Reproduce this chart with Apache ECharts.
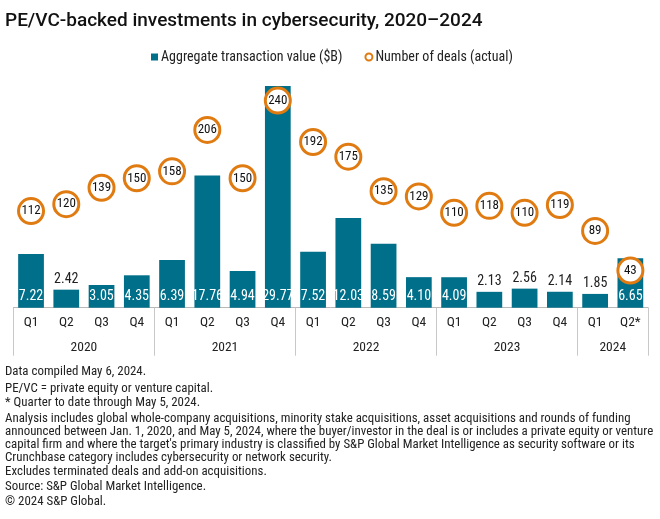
<!DOCTYPE html>
<html>
<head>
<meta charset="utf-8">
<script src="https://cdn.jsdelivr.net/npm/echarts@6/dist/echarts.min.js"></script>
<style>html,body{margin:0;padding:0;background:#fff;}#c{width:660px;height:519px;}</style>
</head>
<body>
<div id="c"></div>
<script>
var quarters = ['Q1','Q2','Q3','Q4','Q1','Q2','Q3','Q4','Q1','Q2','Q3','Q4','Q1','Q2','Q3','Q4','Q1','Q2*'];
var years = ['2020','2021','2022','2023','2024'];
var quartersPerYear = [4,4,4,4,2];
var values = [7.22,2.42,3.05,4.35,6.39,17.76,4.94,29.77,7.52,12.03,8.59,4.10,4.09,2.13,2.56,2.14,1.85,6.65];
var deals = [112,120,139,150,158,206,150,240,192,175,135,129,110,118,110,119,89,43];
var footnotes = [
  'Data compiled May 6, 2024.',
  'PE/VC = private equity or venture capital.',
  '* Quarter to date through May 5, 2024.',
  'Analysis includes global whole-company acquisitions, minority stake acquisitions, asset acquisitions and rounds of funding\nannounced between Jan. 1, 2020, and May 5, 2024, where the buyer/investor in the deal is or includes a private equity or venture\ncapital firm and where the target\'s primary industry is classified by S&P Global Market Intelligence as security software or its\nCrunchbase category includes cybersecurity or network security.',
  'Excludes terminated deals and add-on acquisitions.',
  'Source: S&P Global Market Intelligence.',
  '\u00a9 2024 S&P Global.'
];
var footTops = [365, 382, 396, 412, 465.5, 480.5, 495];

var FONT = 'Roboto Condensed';
var BAR = '#006f89';
var ORANGE = '#e07b12';

var yearCats = [], starts = [], labelIdx = [];
var k = 0;
years.forEach(function (y, i) {
  starts.push(k);
  labelIdx.push(k + quartersPerYear[i] / 2 - 1);
  for (var j = 0; j < quartersPerYear[i]; j++) { yearCats.push(y); }
  k += quartersPerYear[i];
});

var barData = values.map(function (v) {
  var inside = v >= 3;
  return {
    value: v,
    label: inside ? {position: 'insideBottom', distance: 4, color: '#ffffff'}
                  : {position: 'top', distance: 3, color: '#222222'}
  };
});

var titles = [{
  text: 'PE/VC-backed investments in cybersecurity, 2020\u20132024',
  left: 5, top: 12, padding: 0,
  textStyle: {fontFamily: 'Roboto', fontWeight: 500, fontSize: 19, color: '#111111'}
}];
footnotes.forEach(function (t, i) {
  titles.push({
    text: t, left: 5, top: footTops[i], padding: 0,
    textStyle: {fontFamily: FONT, fontWeight: 'normal', fontSize: 12.9, lineHeight: 13, color: '#222222'}
  });
});

var chart = echarts.init(document.getElementById('c'), null, {renderer: 'canvas'});
chart.setOption({
  animation: false,
  backgroundColor: '#ffffff',
  title: titles,
  legend: {
    top: 50, left: 151, padding: 0, itemGap: 22,
    itemWidth: 7, itemHeight: 7,
    textStyle: {fontFamily: FONT, fontSize: 14, color: '#222222', padding: [0, 0, 0, -2]},
    data: [
      {name: 'Aggregate transaction value ($B)', icon: 'rect'},
      {name: 'Number of deals (actual)', icon: 'circle'}
    ]
  },
  grid: {left: 13.4, right: 12, top: 84.2, bottom: 211.3, containLabel: false},
  xAxis: [{
    type: 'category', data: quarters, position: 'bottom',
    axisLine: {show: true, lineStyle: {color: '#b8b8b8', width: 1}},
    axisTick: {show: false},
    axisLabel: {color: '#222222', fontFamily: FONT, fontSize: 13.5, margin: 8, interval: 0}
  }, {
    type: 'category', data: yearCats, position: 'bottom',
    axisLine: {show: false},
    axisTick: {show: true, length: 48, lineStyle: {color: '#c8c8c8', width: 1},
      interval: function (i) { return starts.indexOf(i) >= 0; }},
    axisLabel: {color: '#222222', fontFamily: FONT, fontSize: 13.5, margin: 32.5,
      padding: [0, 0, 0, 35.3],
      interval: function (i) { return labelIdx.indexOf(i) >= 0; }}
  }],
  yAxis: [
    {type: 'value', min: 0, max: 30, show: false, splitLine: {show: false}},
    {type: 'value', min: 0, max: 259, show: false, splitLine: {show: false}}
  ],
  series: [{
    name: 'Aggregate transaction value ($B)',
    type: 'bar', xAxisIndex: 0, yAxisIndex: 0,
    barWidth: '73%',
    itemStyle: {color: BAR},
    label: {show: true, fontFamily: FONT, fontSize: 14,
      formatter: function (p) { return p.value.toFixed(2); }},
    data: barData,
    z: 2
  }, {
    name: 'Number of deals (actual)',
    type: 'scatter', xAxisIndex: 0, yAxisIndex: 1,
    symbol: 'circle', symbolSize: 25,
    itemStyle: {color: '#ffffff', borderColor: ORANGE, borderWidth: 3, opacity: 1},
    label: {show: true, position: 'inside', color: '#111111', fontFamily: FONT, fontSize: 13},
    data: deals,
    z: 5
  }]
});
</script>
</body>
</html>
